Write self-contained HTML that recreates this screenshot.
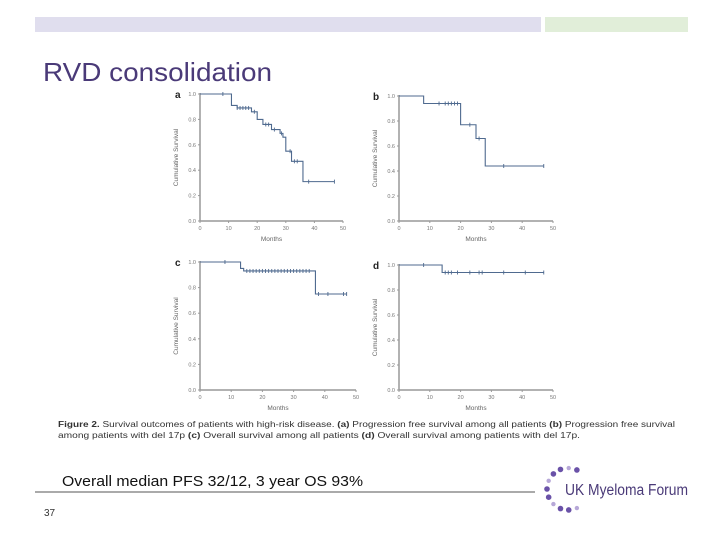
<!DOCTYPE html>
<html><head><meta charset="utf-8"><style>
html,body{margin:0;padding:0;background:#fff;}
svg{display:block;font-family:"Liberation Sans",sans-serif;}
</style></head><body>
<svg id="s" width="720" height="540" viewBox="0 0 720 540">
<rect x="35" y="17" width="506" height="15" fill="#e0deee"/>
<rect x="545" y="17" width="143" height="15" fill="#e1eed9"/>
<text x="43" y="81" font-size="26" textLength="229" lengthAdjust="spacingAndGlyphs" fill="#4a3a78">RVD consolidation</text>
<g id="charts"></g>
<text x="58" y="427" font-size="8.6" fill="#333" textLength="617" lengthAdjust="spacingAndGlyphs"><tspan font-weight="bold">Figure 2.</tspan>   Survival outcomes of patients with high-risk disease. <tspan font-weight="bold">(a)</tspan> Progression free survival among all patients <tspan font-weight="bold">(b)</tspan> Progression free survival</text>
<text x="58" y="438" font-size="8.6" fill="#333" textLength="522" lengthAdjust="spacingAndGlyphs">among patients with del 17p <tspan font-weight="bold">(c)</tspan> Overall survival among all patients <tspan font-weight="bold">(d)</tspan> Overall survival among patients with del 17p.</text>
<text x="62" y="486" font-size="15" fill="#111" textLength="301" lengthAdjust="spacingAndGlyphs">Overall median PFS 32/12, 3 year OS 93%</text>
<line x1="35" y1="492" x2="535" y2="492" stroke="#555" stroke-width="1"/>
<text x="44" y="516" font-size="10" fill="#333">37</text>
<g id="logo">
<text x="565" y="495" font-size="15.5" fill="#4a3a78" textLength="123" lengthAdjust="spacingAndGlyphs">UK Myeloma Forum</text>
</g>
</svg>
<script>
// Panel a: PFS all patients
const aTimes=[0,8,11,13,18,20,22,25,28,29,30,32,36,47];
const aSurv=[1.0,1.0,0.91,0.89,0.86,0.80,0.76,0.72,0.69,0.66,0.55,0.47,0.31,0.31];
const aCens=[8,13,14,15,16,17,19,23,24,26,28.5,31.5,33,34,38,47];
// Panel b: PFS del 17p
const bTimes=[0,8,20,25,28,47];
const bSurv=[1.0,0.94,0.77,0.66,0.44,0.44];
const bCens=[13,15,16,17,18,19,23,26,34,47];
// Panel c: OS all patients
const cTimes=[0,13,14,37,47];
const cSurv=[1.0,0.95,0.93,0.75,0.75];
const cCens=[8,15,16,17,18,19,20,21,22,23,24,25,26,27,28,29,30,31,32,33,34,35,38,41,46,47];
// Panel d: OS del 17p
const dTimes=[0,14,47];
const dSurv=[1.0,0.94,0.94];
const dCens=[8,15,16,17,19,23,26,27,34,41,47];
const yTicks=["0.0","0.2","0.4","0.6","0.8","1.0"];
const xTicks=["0","10","20","30","40","50"];

const NS="http://www.w3.org/2000/svg";
const g=document.getElementById('charts');
function mk(tag,attrs,parent){const e=document.createElementNS(NS,tag);for(const k in attrs)e.setAttribute(k,attrs[k]);(parent||g).appendChild(e);return e;}
const panels=[
 {id:'a',x0:200,x1:343,y0:221,y1:94,t:aTimes,s:aSurv,c:aCens,lx:175},
 {id:'b',x0:399,x1:553,y0:221,y1:96,t:bTimes,s:bSurv,c:bCens,lx:373},
 {id:'c',x0:200,x1:356,y0:390,y1:262,t:cTimes,s:cSurv,c:cCens,lx:175},
 {id:'d',x0:399,x1:553,y0:390,y1:265,t:dTimes,s:dSurv,c:dCens,lx:373}
];
panels.forEach(p=>{
 const X=v=>p.x0+(p.x1-p.x0)*v/50, Y=v=>p.y0-(p.y0-p.y1)*v;
 const pg=mk('g',{});
 
 
 const lab=mk('text',{x:p.lx,y:p.y1+4,'font-size':10,'font-weight':'bold',fill:'#222'},pg);
 lab.textContent=p.id;
 
 
 const ax=mk('path',{d:`M${p.x0} ${p.y1-1}V${p.y0}H${p.x1}`,stroke:'#999',fill:'none','stroke-width':1.5},pg);
 
 
 yTicks.forEach((t,i)=>{const v=i/5;
  mk('line',{x1:p.x0-2,x2:p.x0,y1:Y(v),y2:Y(v),stroke:'#999'},pg);
  const tx=mk('text',{x:p.x0-4,y:Y(v)+2,'font-size':5.5,fill:'#777','text-anchor':'end'},pg);tx.textContent=t;
  
  });
 xTicks.forEach((t,i)=>{const v=i*10;
  mk('line',{x1:X(v),x2:X(v),y1:p.y0,y2:p.y0+2,stroke:'#999'},pg);
  const tx=mk('text',{x:X(v),y:p.y0+9,'font-size':5.5,fill:'#777','text-anchor':'middle'},pg);tx.textContent=t;
  
  });
 const xt=mk('text',{x:(p.x0+p.x1)/2,y:p.y0+20,'font-size':6.5,fill:'#666','text-anchor':'middle'},pg);xt.textContent='Months';
 
 
 const yc=(p.y0+p.y1)/2;
 const yt=mk('text',{x:p.x0-22,y:yc,'font-size':6.5,fill:'#666','text-anchor':'middle',transform:`rotate(-90 ${p.x0-22} ${yc})`},pg);yt.textContent='Cumulative Survival';
 
 
 let d=`M${X(p.t[0])} ${Y(p.s[0])}`;
 for(let i=1;i<p.t.length;i++){d+=`H${X(p.t[i])}V${Y(p.s[i])}`;}
 const ln=mk('path',{d:d,stroke:'#4f6a8f',fill:'none','stroke-width':1.1},pg);
 
 
 const sAt=t=>{let v=p.s[0];for(let i=0;i<p.t.length;i++){if(p.t[i]<=t)v=p.s[i];}return v;};
 p.c.forEach(t=>{const m=mk('line',{x1:X(t),x2:X(t),y1:Y(sAt(t))-2,y2:Y(sAt(t))+2,stroke:'#4f6a8f','stroke-width':0.9},pg);
  
  });
});
// logo dots: arc open on the right
const logo=document.getElementById('logo');
const cx=568,cy=489,r=21;
for(let i=0;i<11;i++){
 const ang=(-65-i*23)*Math.PI/180;
 const dot=mk('circle',{r:i%3===1?2.2:2.8,fill:i%3===1?'#b7a8d8':'#6a52a8'},logo);
 dot.setAttribute('cx',cx+r*Math.cos(ang));
 dot.setAttribute('cy',cy+r*Math.sin(ang));
 
 }
</script>
</body></html>
